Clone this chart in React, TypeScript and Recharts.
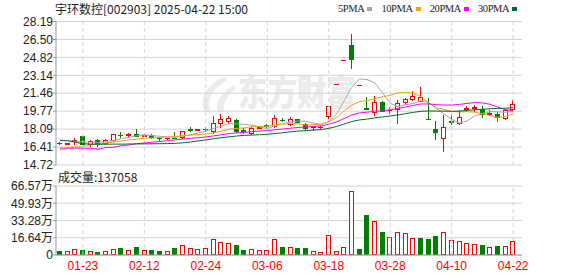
import React from 'react';
import { ComposedChart, Bar, Line, XAxis, YAxis, CartesianGrid, ReferenceLine } from 'recharts';

const dates = ['01-20','01-21','01-22','01-23','01-24','01-27','02-05','02-06','02-07','02-10','02-11','02-12','02-13','02-14','02-17','02-18','02-19','02-20','02-21','02-24','02-25','02-26','02-27','02-28','03-03','03-04','03-05','03-06','03-07','03-10','03-11','03-12','03-13','03-14','03-17','03-18','03-19','03-20','03-21','03-24','03-25','03-26','03-27','03-28','03-31','04-01','04-02','04-03','04-07','04-08','04-09','04-10','04-11','04-14','04-15','04-16','04-17','04-18','04-21','04-22'];

const opens = [16.80,16.72,17.00,17.45,16.69,17.04,16.82,17.07,17.58,17.57,17.64,17.48,17.55,17.28,17.22,17.30,17.33,18.10,18.04,18.14,17.92,18.64,18.89,18.95,18.00,17.70,18.22,18.45,18.40,18.98,18.55,19.02,18.60,18.28,18.30,19.33,22.30,24.53,26.00,22.21,20.05,19.73,20.67,19.85,19.98,20.67,20.90,20.77,19.05,18.10,17.23,18.82,18.64,20.00,20.10,19.98,19.55,19.48,19.11,19.98];
const highs = [16.90,16.80,17.23,17.48,17.05,17.20,17.12,17.66,17.80,17.70,18.10,17.62,17.60,17.38,17.30,17.85,17.95,18.27,18.12,18.30,19.36,19.52,19.36,19.00,18.17,18.25,18.35,18.55,19.42,19.10,19.20,19.08,18.70,18.35,18.40,20.30,22.30,24.53,26.98,22.21,21.08,21.20,20.75,20.20,20.83,21.05,21.68,22.02,21.00,18.86,19.42,19.55,19.85,20.30,20.35,20.27,19.90,19.73,19.95,20.83];
const lows = [16.70,16.68,16.67,16.65,16.55,16.50,16.72,16.98,17.33,17.40,17.40,17.40,17.30,17.07,17.12,17.22,17.30,17.92,18.00,17.95,17.76,18.32,18.64,17.80,17.76,17.60,18.20,18.30,18.30,18.85,18.50,18.75,17.98,18.00,18.20,19.11,22.30,24.53,23.87,22.21,19.99,19.42,19.80,19.60,18.70,20.45,20.85,20.70,19.03,17.13,16.00,18.60,18.58,19.75,19.75,19.20,19.45,18.85,19.02,19.75];
const closes = [16.76,16.77,17.07,16.69,17.01,16.67,17.07,17.64,17.55,17.60,17.45,17.50,17.32,17.23,17.28,17.26,17.92,18.05,18.08,18.10,18.64,19.04,19.17,17.92,17.90,18.23,18.27,18.40,19.10,18.95,19.00,18.80,18.23,18.30,18.32,20.27,22.30,24.53,24.68,22.21,19.99,20.67,19.83,19.90,20.52,20.95,21.24,21.14,19.03,17.80,18.32,18.78,19.26,20.08,20.14,19.52,19.60,19.20,19.89,20.42];
const volumes = [41800,38600,54700,48200,35400,29000,38600,54700,64300,48200,77200,48200,48200,38600,38600,64300,93300,67500,57900,67500,151000,125000,116000,96500,48200,54700,48200,48200,151000,77200,74000,67500,67500,35400,25700,190000,35400,74000,617000,57900,389000,325000,222000,170000,222000,212000,161000,164000,154000,183000,222000,145000,135000,116000,106000,96500,77200,86800,83600,137058];

const ma5 = [17.05,17.00,16.95,16.88,16.86,16.84,16.90,17.02,17.19,17.31,17.46,17.55,17.48,17.42,17.36,17.32,17.40,17.55,17.72,17.88,18.16,18.38,18.61,18.57,18.53,18.45,18.30,18.14,18.38,18.59,18.74,18.85,18.82,18.66,18.53,18.78,19.48,20.74,22.02,22.80,22.74,22.42,21.48,20.52,20.18,20.37,20.49,20.75,20.58,20.03,19.51,19.01,18.64,18.85,19.32,19.56,19.72,19.71,19.67,19.73];
const ma10 = [16.12,16.30,16.40,16.50,16.60,16.68,16.78,16.88,16.97,17.08,17.15,17.23,17.25,17.31,17.34,17.39,17.48,17.52,17.57,17.62,17.74,17.89,18.08,18.15,18.21,18.31,18.34,18.38,18.48,18.56,18.60,18.58,18.48,18.52,18.56,18.76,19.17,19.78,20.34,20.67,20.76,20.95,21.11,21.27,21.49,21.56,21.46,21.12,20.55,20.11,19.94,19.75,19.70,19.72,19.68,19.54,19.37,19.18,19.26,19.53];
const ma20 = [16.30,16.30,16.30,16.30,16.29,16.20,16.36,16.38,16.54,16.60,16.72,16.78,16.86,16.92,17.00,17.08,17.15,17.22,17.28,17.35,17.45,17.56,17.67,17.73,17.78,17.85,17.91,17.95,18.03,18.09,18.17,18.24,18.28,18.34,18.39,18.54,18.76,19.08,19.41,19.62,19.68,19.77,19.80,19.90,20.03,20.16,20.32,20.45,20.45,20.39,20.35,20.35,20.41,20.50,20.59,20.55,20.42,20.15,19.91,19.82];
const ma30 = [17.02,17.00,16.85,16.72,16.68,16.67,16.67,16.68,16.68,16.69,16.70,16.70,16.71,16.72,16.73,16.75,16.80,16.88,16.98,17.08,17.18,17.28,17.36,17.44,17.50,17.53,17.56,17.60,17.67,17.75,17.83,17.90,17.94,18.00,18.04,18.16,18.33,18.56,18.80,18.95,19.03,19.14,19.23,19.32,19.42,19.54,19.66,19.76,19.79,19.78,19.77,19.76,19.77,19.84,19.91,19.95,20.00,20.03,20.05,20.10];

const xTicks = ['01-23','02-12','02-24','03-06','03-18','03-28','04-10','04-22'];
const priceTicks = [14.72,16.41,18.09,19.77,21.46,23.14,24.82,26.50,28.19];
const volTicks = [0,166400,332800,499300,665700];
const maNames = ['5PMA','10PMA','20PMA','30PMA'];
const titleText = '宇环数控[002903] 2025-04-22 15:00';
const volTitle = '成交量:137058';
const watermarkText = '东方财富';

const RED = '#ff0000';
const GREEN = '#008000';
const MA_COLORS = ['#a6a6a6', '#f2a20c', '#ff00ff', '#006b30'];
const AXIS = '#999999';
const GRID = '#d4d4d4';
const SANS = 'Arial, "Liberation Sans", "Noto Sans CJK SC", sans-serif';
const CJK = '"Noto Sans CJK SC", "Noto Sans", sans-serif';

const rows = dates.map((d, i) => ({
  date: d,
  open: opens[i],
  high: highs[i],
  low: lows[i],
  close: closes[i],
  vol: volumes[i],
  volUp: i > 0 ? closes[i] >= closes[i - 1] : false,
  ma5: ma5[i],
  ma10: ma10[i],
  ma20: ma20[i],
  ma30: ma30[i],
}));

const Candle = (props: any) => {
  const { x, y, width, height, payload } = props;
  if (x == null || y == null || !payload) return null;
  const { open, close, high, low } = payload;
  const up = close >= open;
  const color = up ? RED : GREEN;
  const left = Math.round(x);
  const w = Math.max(3, Math.round(width));
  const cx = left + Math.floor(w / 2) + 0.5;
  if (!(high > low) || !height) {
    const yy = Math.round(y) + 0.5;
    return <line x1={left} x2={left + w} y1={yy} y2={yy} stroke={color} strokeWidth={1} />;
  }
  const k = height / (high - low);
  const py = (v: number) => y + (high - v) * k;
  const yO = py(open);
  const yC = py(close);
  const top = Math.round(Math.min(yO, yC));
  const bot = Math.round(Math.max(yO, yC));
  const yH = Math.round(py(high));
  const yL = Math.round(py(low));
  if (bot - top < 1) {
    const yy = top + 0.5;
    return (
      <g>
        <line x1={cx} x2={cx} y1={yH} y2={yL + 1} stroke={color} strokeWidth={1} />
        <line x1={left} x2={left + w} y1={yy} y2={yy} stroke={color} strokeWidth={1} />
      </g>
    );
  }
  if (up) {
    return (
      <g>
        <line x1={cx} x2={cx} y1={yH} y2={top} stroke={color} strokeWidth={1} />
        <line x1={cx} x2={cx} y1={bot} y2={yL + 1} stroke={color} strokeWidth={1} />
        <rect x={left + 0.5} y={top + 0.5} width={w - 1} height={bot - top} fill="#ffffff" stroke={color} strokeWidth={1} />
      </g>
    );
  }
  return (
    <g>
      <line x1={cx} x2={cx} y1={yH} y2={yL + 1} stroke={color} strokeWidth={1} />
      <rect x={left} y={top} width={w} height={bot - top + 1} fill={color} />
    </g>
  );
};

const VolBar = (props: any) => {
  const { x, y, width, height, payload } = props;
  if (x == null || y == null || !payload || !height) return null;
  const left = Math.round(x);
  const w = Math.max(3, Math.round(width));
  const top = Math.round(y);
  const bot = Math.round(y + height);
  if (payload.volUp) {
    return <rect x={left + 0.5} y={top + 0.5} width={w - 1} height={bot - top - 1} fill="#ffffff" stroke={RED} strokeWidth={1} />;
  }
  return <rect x={left} y={top} width={w} height={bot - top} fill={GREEN} />;
};

const yTick = { fill: '#222222', fontSize: 12, fontFamily: SANS };

export default function App() {
  const maKeys = ['ma5', 'ma10', 'ma20', 'ma30'];
  return (
    <div style={{ position: 'absolute', left: 0, top: 0, width: 578, height: 276, background: '#ffffff', overflow: 'hidden' }}>
      <div style={{ position: 'absolute', left: 238, top: 72, fontFamily: CJK, fontSize: 32, fontWeight: 900, lineHeight: '32px', color: '#ebebeb', transform: 'scale(0.92, 1.12)', transformOrigin: 'left top', whiteSpace: 'nowrap' }}>
        {watermarkText}
      </div>
      <svg style={{ position: 'absolute', left: 0, top: 0 }} width={578} height={170}>
        <path d="M224 77 C206 85 198 100 205 112 L211 112 C206 100 212 88 228 80 Z" fill="#ebebeb" />
        <path d="M234 85 C221 93 214 103 218 112 L224 112 C222 103 227 95 236 89 Z" fill="#ebebeb" />
      </svg>
      <div style={{ position: 'absolute', left: 0, top: 0 }}>
        <ComposedChart width={578} height={178} data={rows} margin={{ top: 21.5, right: 56, bottom: 13, left: 0 }}>
          <CartesianGrid vertical={false} stroke={GRID} xAxisId="b" yAxisId="p" />
          {xTicks.map((t) => (
            <ReferenceLine key={t} x={t} xAxisId="b" yAxisId="p" stroke={GRID} strokeDasharray="4 3" />
          ))}
          <XAxis xAxisId="b" dataKey="date" height={0} tick={false} tickLine={false} axisLine={{ stroke: AXIS }} padding={{ left: 0, right: 5 }} />
          <XAxis xAxisId="t" dataKey="date" orientation="top" height={0} tick={false} tickLine={false} axisLine={{ stroke: AXIS }} />
          <YAxis yAxisId="p" type="number" domain={[14.72, 28.19]} ticks={priceTicks} width={56} tickSize={3} tickMargin={0} tickLine={{ stroke: AXIS }} axisLine={{ stroke: AXIS }} tick={yTick} tickFormatter={(v: number) => v.toFixed(2)} interval={0} />
          <YAxis yAxisId="pr" orientation="right" type="number" domain={[14.72, 28.19]} width={0} tick={false} tickLine={false} axisLine={{ stroke: AXIS }} />
          <Bar xAxisId="b" yAxisId="p" dataKey={(d: any) => [d.low, d.high]} barSize={5} shape={Candle} isAnimationActive={false} legendType="none" />
          {maKeys.map((k, i) => (
            <Line key={k} xAxisId="b" yAxisId="p" type="linear" dataKey={k} name={maNames[i]} stroke={MA_COLORS[i]} strokeWidth={1} dot={false} activeDot={false} isAnimationActive={false} />
          ))}
        </ComposedChart>
      </div>
      <div style={{ position: 'absolute', left: 0, top: 170 }}>
        <ComposedChart width={578} height={106} data={rows} margin={{ top: 16, right: 56, bottom: 0, left: 0 }}>
          <CartesianGrid vertical={false} stroke={GRID} xAxisId="b" yAxisId="v" />
          {xTicks.map((t) => (
            <ReferenceLine key={t} x={t} xAxisId="b" yAxisId="v" stroke={GRID} strokeDasharray="4 3" />
          ))}
          <XAxis xAxisId="b" dataKey="date" height={21} ticks={xTicks} interval={0} tickSize={0} tickMargin={6} tickLine={false} axisLine={{ stroke: AXIS }} tick={{ fill: RED, fontSize: 12, fontFamily: SANS }} padding={{ left: 0, right: 5 }} />
          <XAxis xAxisId="t" dataKey="date" orientation="top" height={0} tick={false} tickLine={false} axisLine={{ stroke: AXIS }} />
          <YAxis yAxisId="v" type="number" domain={[0, 665700]} ticks={volTicks} width={56} tickSize={3} tickMargin={0} tickLine={{ stroke: AXIS }} axisLine={{ stroke: AXIS }} tick={yTick} interval={0} tickFormatter={(v: number) => (v === 0 ? '0' : (v / 10000).toFixed(2) + '万')} />
          <YAxis yAxisId="vr" orientation="right" type="number" domain={[0, 665700]} width={0} tick={false} tickLine={false} axisLine={{ stroke: AXIS }} />
          <Bar xAxisId="b" yAxisId="v" dataKey="vol" barSize={5} shape={VolBar} isAnimationActive={false} legendType="none" />
        </ComposedChart>
      </div>
      <div style={{ position: 'absolute', left: 55, top: 2, fontFamily: CJK, fontSize: 12, lineHeight: '14px', color: '#222222', whiteSpace: 'pre' }}>
        {titleText}
      </div>
      <div style={{ position: 'absolute', left: 338, top: 3, display: 'flex', alignItems: 'center', fontFamily: '"Liberation Serif", "DejaVu Serif", serif', fontSize: 10.5, lineHeight: '12px', color: '#222222', whiteSpace: 'nowrap' }}>
        {maNames.map((n, i) => (
          <span key={n} style={{ display: 'inline-flex', alignItems: 'center', marginRight: 9 }}>
            <span style={{ letterSpacing: '-0.4px' }}>{n}</span>
            <span style={{ display: 'inline-block', width: 5, height: 4, marginLeft: 3, background: MA_COLORS[i] }} />
          </span>
        ))}
      </div>
      <div style={{ position: 'absolute', left: 58, top: 170, fontFamily: CJK, fontSize: 12, lineHeight: '14px', color: '#222222', whiteSpace: 'pre' }}>
        {volTitle}
      </div>
    </div>
  );
}
